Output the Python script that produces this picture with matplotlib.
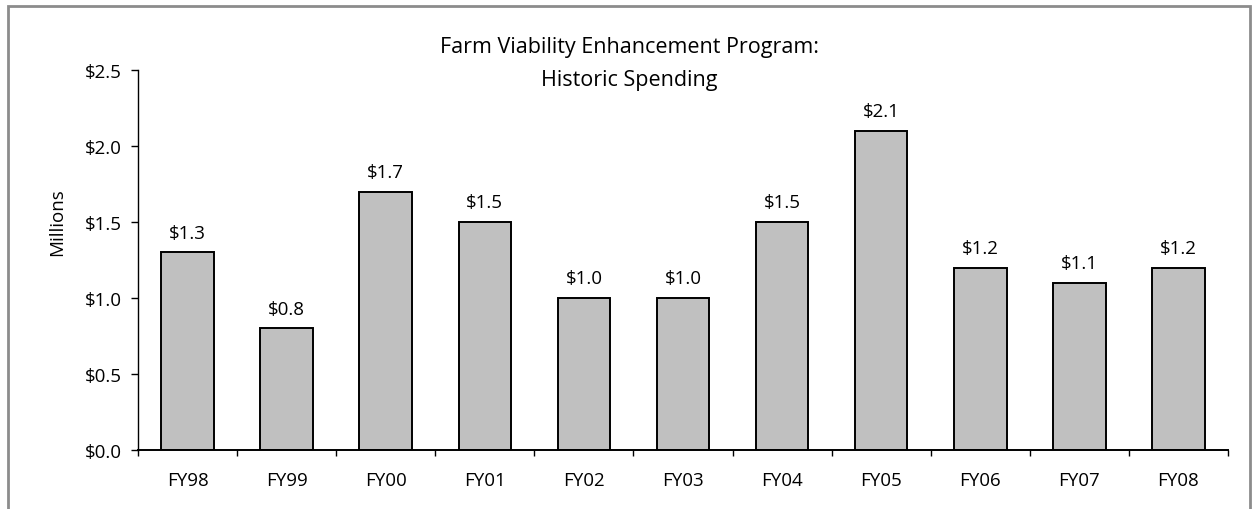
import matplotlib.pyplot as plt
from matplotlib.patches import Rectangle

# data
years = ['FY98', 'FY99', 'FY00', 'FY01', 'FY02', 'FY03', 'FY04', 'FY05', 'FY06', 'FY07', 'FY08']
spending = [1.3, 0.8, 1.7, 1.5, 1.0, 1.0, 1.5, 2.1, 1.2, 1.1, 1.2]
yticks = [0.0, 0.5, 1.0, 1.5, 2.0, 2.5]

plt.rcParams['font.family'] = ['Open Sans', 'DejaVu Sans']
W, H = 1253, 510
fs = 13.5

fig = plt.figure(figsize=(W / 100, H / 100), dpi=100)
ax = fig.add_axes([138 / W, (H - 451) / H, 1090 / W, 380 / H])

# grey frame around the chart area
fig.patches.append(Rectangle((8 / W, -0.05), 1242 / W, 1.05 - 7 / H, transform=fig.transFigure,
                             fill=False, edgecolor='#8c8c8c', linewidth=2.0))

x = range(len(years))
ax.bar(x, spending, width=0.53, color='#c0c0c0', edgecolor='black', linewidth=1.4)

for xi, v in zip(x, spending):
    ax.annotate('$%.1f' % v, (xi, v), xytext=(0, 10.5), textcoords='offset points',
                ha='center', va='baseline', fontsize=fs)

ax.set_xlim(-0.5, len(years) - 0.5)
ax.set_ylim(0, 2.5)
ax.set_yticks(yticks)
ax.set_yticklabels(['$%.1f' % t for t in yticks], fontsize=fs)

ax.set_xticks(x)
ax.set_xticklabels(years, fontsize=fs)
ax.tick_params(axis='x', length=0, pad=15)
# boundary ticks between categories
ax.set_xticks([i - 0.5 for i in range(len(years) + 1)], minor=True)
ax.tick_params(axis='x', which='minor', length=4.5, direction='out', width=1)
ax.tick_params(axis='y', length=5, direction='out', width=1, pad=6.5)

ax.spines['top'].set_visible(False)
ax.spines['right'].set_visible(False)
ax.spines['left'].set_linewidth(1)
ax.spines['bottom'].set_linewidth(1.4)

fig.text(57 / W, 1 - 222 / H, 'Millions', rotation=90, ha='center', va='center', fontsize=fs)
fig.text(629 / W, 1 - 53 / H, 'Farm Viability Enhancement Program:',
         ha='center', va='baseline', fontsize=15.5)
fig.text(629 / W, 1 - 86 / H, 'Historic Spending',
         ha='center', va='baseline', fontsize=15.5)

plt.savefig('out.png', dpi=100)
